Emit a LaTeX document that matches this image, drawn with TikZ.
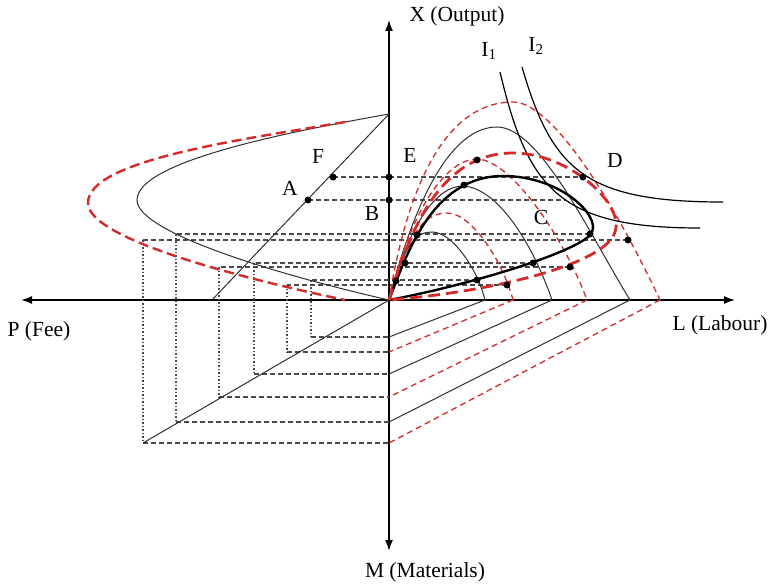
\documentclass[tikz,border=0pt]{standalone}
\usepackage{fontspec}
\setmainfont{Liberation Serif}
\usetikzlibrary{arrows.meta}
\definecolor{crv}{HTML}{303030}
\definecolor{prjgrey}{HTML}{4A4A4A}
\definecolor{fred}{HTML}{D42A2A}
\tikzset{
  ax/.style  ={line width=1.6pt, draw=black, {Latex[length=11pt,width=8pt]}-{Latex[length=11pt,width=8pt]}},
  thn/.style ={line width=1pt, draw=crv},
  iso/.style ={line width=1.2pt, draw=black},
  rdd/.style ={line width=1.3pt, draw=fred, dash pattern=on 6pt off 4pt},
  bld/.style ={line width=2.4pt, draw=black},
  rdb/.style ={line width=2.8pt, draw=fred, dash pattern=on 12pt off 6pt},
  prj/.style ={line width=1.2pt, draw=prjgrey, dash pattern=on 5pt off 3pt},
  drp/.style ={line width=1.1pt, draw=prjgrey, dash pattern=on 1.5pt off 2pt},
  dt/.style  ={circle, fill=black, inner sep=0pt, minimum size=7pt},
  lbl/.style ={font=\fontsize{21.5}{24}\selectfont, inner sep=1pt}
}

\begin{document}
\begin{tikzpicture}[x=1pt, y=-1pt]
  \useasboundingbox (0,0) rectangle (770,583);
  \coordinate (O) at (389,300);
  \coordinate (Xt) at (389,20);  \coordinate (Mb) at (389,551);
  \coordinate (Pl) at (21,300);  \coordinate (Lr) at (735,300);
  \coordinate (F) at (333,177);  \coordinate (E) at (389,177);  \coordinate (D) at (583,177);
  \coordinate (A) at (308,200);  \coordinate (B) at (389,200);  \coordinate (C) at (566,200);
  \coordinate (T) at (389,114);  \coordinate (Tp) at (212,300); \coordinate (G) at (143,443);
  \coordinate (b1) at (396,281); \coordinate (b2) at (405,263); \coordinate (b3) at (417,235);
  \coordinate (sm) at (464,185); \coordinate (rm) at (477,160);
  \coordinate (I1a) at (500,72); \coordinate (I1b) at (700,228);
  \coordinate (I2a) at (522,67); \coordinate (I2b) at (723,202);
  \foreach \nm/\xa/\ya/\xb/\yb/\xl in {s1/477/280/311/337/485, r1/507/285/287/352/513,
      s2/533/263/254/374/552, r2/570/267/219/397/587, s3/590/234/176/422/630, r3/628/240/143/443/660}{
    \coordinate (\nm q) at (\xa,\ya);
    \coordinate (\nm p) at (\xb,\ya);
    \coordinate (\nm c) at (\xb,\yb);
    \coordinate (\nm m) at (389,\yb);
    \coordinate (\nm l) at (\xl,300);
  }

  \draw[ax] (Pl) -- (Lr);
  \draw[ax] (Mb) -- (Xt);

  \draw[prj] (F) -- (D);
  \draw[prj] (A) -- (C);
  \foreach \nm in {s1,r1,s2,r2,s3,r3}{
    \draw[prj] (\nm q) -- (\nm p);
    \draw[drp] (\nm p) -- (\nm c);
    \draw[prj] (\nm c) -- (\nm m);
  }
  \foreach \nm in {s1,s2,s3} \draw[thn] (\nm l) -- (\nm m);
  \foreach \nm in {r1,r2,r3} \draw[rdd] (\nm l) -- (\nm m);
  \draw[thn] (T) -- (Tp);
  \draw[thn] (O) -- (G);

  \draw[thn] (T) .. controls (300,130) and (137,160) .. (137,200) .. controls (137,235) and (300,280) .. (O);
  \draw[rdb, line width=2.4pt, dash pattern=on 10pt off 5pt] (345,122) .. controls (240,140) and (88,160) .. (88,203)
        .. controls (88,240) and (250,280) .. (345,300);

  \draw[thn] (O) .. controls (405,240) and (418,232) .. (432,232) .. controls (452,232) and (477,268) .. (s1l);
  \draw[thn] (O) .. controls (410,220) and (438,186) .. (463,186) .. controls (500,188) and (535,250) .. (s2l);
  \draw[thn] (O) .. controls (420,180) and (458,127) .. (497,127) .. controls (540,127) and (590,235) .. (s3l);
  \draw[rdd] (O) .. controls (408,232) and (425,213) .. (447,213) .. controls (472,213) and (503,262) .. (r1l);
  \draw[rdd] (O) .. controls (412,205) and (448,159) .. (477,159) .. controls (512,160) and (565,240) .. (r2l);
  \draw[rdd] (O) .. controls (415,140) and (468,102) .. (513,102) .. controls (555,102) and (620,215) .. (r3l);

  \draw[iso] (I1a) .. controls (528,190) and (560,228) .. (I1b);
  \draw[iso] (I2a) .. controls (552,170) and (585,202) .. (I2b);

  \draw[bld] (O) .. controls (405,260) and (430,176) .. (503,176) .. controls (560,176) and (600,215) .. (592,232)
        .. controls (585,250) and (470,285) .. (O);
  \draw[rdb] (O) .. controls (410,230) and (440,153) .. (513,153) .. controls (570,153) and (625,205) .. (615,232)
        .. controls (605,265) and (490,292) .. (O);

  \foreach \p in {F,E,D,A,B,b1,b2,b3,sm,rm,s1q,r1q,s2q,r2q,s3q,r3q}
    \node[dt] (d\p) at (\p) {};

  \node[lbl] (lX) at (457,16) {X (Output)};
  \node[lbl] (lI1) at (489,51) {I\textsubscript{1}};
  \node[lbl] (lI2) at (536,46) {I\textsubscript{2}};
  \node[lbl] (lP) at (39,331) {P (Fee)};
  \node[lbl] (lL) at (720,325) {L (Labour)};
  \node[lbl] (lM) at (425,572) {M (Materials)};
  \node[lbl] (lE) at (410,155) {E};
  \node[lbl] (lD) at (615,160) {D};
  \node[lbl] (lB) at (372,213) {B};
  \node[lbl] (lA) at (290,188) {A};
  \node[lbl] (lF) at (318,156) {F};
  \node[lbl] (lC) at (541,217) {C};
\end{tikzpicture}
\end{document}
